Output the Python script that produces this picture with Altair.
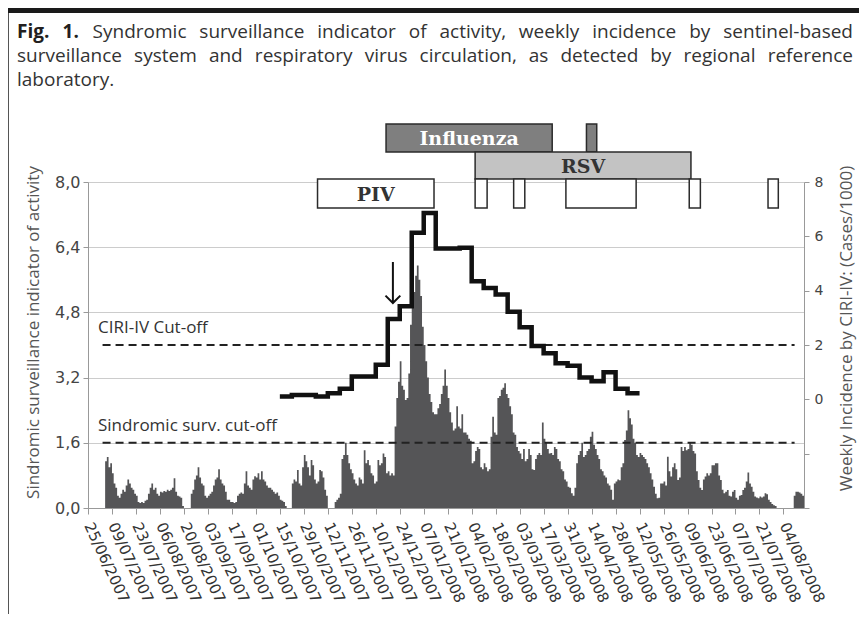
import altair as alt
import pandas as pd

# ---------------- data ----------------
FIRST_DAY = 10          # day index (days since 25/06/2007) of first daily value
DOMAIN_END = 418
daily_indicator = [
    1.15, 1.25, 1.0, 1.1, 0.85, 0.6, 0.5, 0.3, 0.25, 0.35,
    0.45, 0.4, 0.55, 0.7, 0.6, 0.5, 0.45, 0.35, 0.3, 0.15,
    0.12, 0.15, 0.12, 0.18, 0.2, 0.35, 0.5, 0.6, 0.45, 0.5,
    0.35, 0.3, 0.4, 0.38, 0.42, 0.4, 0.45, 0.42, 0.45, 0.5,
    0.73, 0.4, 0.3, 0.28, 0.25, 0.05, 0, 0, 0, 0,
    0.35, 0.45, 0.7, 0.8, 1.0, 0.75, 0.6, 0.55, 0.3, 0.25,
    0.3, 0.35, 0.4, 0.55, 0.7, 0.75, 0.95, 0.7, 0.6, 0.55,
    0.4, 0.2, 0.2, 0.15, 0.15, 0.12, 0.15, 0.3, 0.35, 0.38,
    0.35, 0.6, 0.9, 0.55, 0.5, 0.45, 0.7, 0.78, 0.75, 0.85,
    0.7, 0.9, 0.7, 0.65, 0.55, 0.5, 0.5, 0.45, 0.4, 0.35,
    0.38, 0.3, 0.2, 0.18, 0.15, 0.05, 0, 0, 0, 0.6,
    0.7, 0.65, 0.93, 0.6, 0.55, 1.0, 1.3, 1.15, 1.0, 0.8,
    1.18, 1.05, 0.7, 0.6, 0.65, 0.93, 0.9, 0.75, 0.45, 0.3,
    0, 0, 0, 0, 0.15, 0.2, 0.25, 0.35, 1.2, 1.3,
    1.6, 1.3, 1.1, 0.95, 0.85, 0.7, 0.6, 0.55, 0.75, 0.7,
    0.6, 1.42, 1.1, 1.18, 1.05, 0.85, 0.8, 0.6, 0.65, 1.18,
    1.05, 1.1, 1.34, 1.25, 0.85, 0.9, 0.8, 0.85, 0.8, 2.0,
    2.7, 3.1, 3.6, 3.0, 2.9, 2.65, 2.7, 3.3, 4.5, 5.1,
    5.3, 5.7, 5.95, 5.6, 5.2, 4.45, 4.0, 3.6, 3.2, 2.8,
    2.6, 2.35, 2.3, 2.3, 2.45, 2.55, 2.8, 3.0, 3.4, 3.0,
    2.7, 2.35, 2.1, 1.9, 1.95, 2.5, 2.0, 1.95, 2.3, 1.85,
    1.85, 1.8, 1.7, 1.65, 1.1, 1.15, 1.4, 1.5, 1.45, 1.0,
    0.95, 1.1, 1.0, 0.9, 0.95, 1.75, 2.24, 1.85, 1.8, 2.7,
    2.75, 2.9, 2.95, 3.06, 2.8, 2.7, 2.5, 2.3, 1.85, 1.8,
    1.5, 1.4, 1.34, 1.2, 1.45, 1.15, 1.2, 1.45, 1.3, 0.95,
    0.93, 1.2, 1.3, 1.35, 1.3, 2.1, 1.7, 1.6, 1.45, 1.34,
    1.35, 1.3, 1.5, 1.45, 1.2, 1.15, 0.95, 0.9, 0.7, 0.65,
    0.52, 0.5, 0.36, 0.3, 0.5, 1.1, 1.3, 1.4, 1.6, 1.25,
    1.3, 1.4, 1.45, 1.75, 1.87, 1.55, 1.45, 1.3, 1.2, 0.95,
    0.9, 0.8, 0.75, 0.6, 0.55, 0.45, 0.2, 0.6, 0.65, 0.7,
    0.68, 1.0, 1.1, 1.67, 1.9, 2.4, 2.2, 2.05, 1.7, 1.6,
    1.3, 1.25, 1.35, 1.3, 1.25, 1.2, 1.1, 1.0, 0.85, 0.7,
    0.52, 0.35, 0.24, 0.25, 0.6, 0.6, 0.65, 0.55, 1.26, 0.9,
    0.77, 1.0, 1.1, 0.95, 0.69, 0.75, 1.5, 1.4, 1.5, 1.42,
    1.45, 1.6, 1.55, 1.4, 1.34, 0.9, 0.69, 0.5, 0.44, 0.7,
    0.77, 0.85, 0.8, 0.85, 1.05, 1.05, 1.1, 1.1, 0.8, 0.69,
    0.45, 0.36, 0.4, 0.44, 0.3, 0.28, 0.4, 0.44, 0.25, 0.2,
    0.3, 0.32, 0.44, 0.5, 0.65, 0.87, 0.6, 0.52, 0.4, 0.28,
    0.26, 0.24, 0.28, 0.26, 0.28, 0.36, 0.34, 0.2, 0.15, 0.1,
    0.07, 0.05, 0, 0, 0, 0, 0, 0, 0, 0,
    0, 0, 0.3, 0.4, 0.4, 0.38, 0.35, 0.3,
]
FIRST_WEEK_DAY = 112    # 15/10/2007
weekly_incidence = [0.1, 0.16, 0.16, 0.1, 0.22, 0.39, 0.84, 0.84, 1.27, 2.96,
                    3.43, 6.13, 6.86, 5.55, 5.55, 5.58, 4.35, 4.1, 3.86, 3.22,
                    2.65, 1.96, 1.7, 1.33, 1.24, 0.8, 0.67, 1.0, 0.39, 0.22]
tick_labels = ["25/06/2007", "09/07/2007", "23/07/2007", "06/08/2007", "20/08/2007",
               "03/09/2007", "17/09/2007", "01/10/2007", "15/10/2007", "29/10/2007",
               "12/11/2007", "26/11/2007", "10/12/2007", "24/12/2007", "07/01/2008",
               "21/01/2008", "04/02/2008", "18/02/2008", "03/03/2008", "17/03/2008",
               "31/03/2008", "14/04/2008", "28/04/2008", "12/05/2008", "26/05/2008",
               "09/06/2008", "23/06/2008", "07/07/2008", "21/07/2008", "04/08/2008"]
left_ticks = [0, 1.6, 3.2, 4.8, 6.4, 8.0]
right_ticks = [-4, -2, 0, 2, 4, 6, 8]

virus_names = ["Influenza", "Influenza", "RSV", "PIV", "RSV+", "RSV+", "RSV+", "RSV+", "RSV+"]
virus_start = [174, 291, 226, 134, 226, 248.5, 279, 351, 397]
virus_end = [271, 297, 352, 202, 233, 255, 320, 357.5, 403]
virus_row = [1, 1, 2, 3, 3, 3, 3, 3, 3]
virus_label = ["Influenza", "", "RSV", "PIV", "", "", "", "", ""]

cutoff_values = [4.0, 1.6]     # left-axis units (CIRI-IV 2 cases/1000 == 4.0)
cutoff_from, cutoff_to = 8.5, 412.5
arrow_day = 178

caption_lines = [
    "Fig. 1. Syndromic surveillance indicator of activity, weekly incidence by sentinel-based",
    "surveillance system and respiratory virus circulation, as detected by regional reference",
    "laboratory.",
]

# ---------------- helpers ----------------
W, H = 716, 326
xscale = alt.Scale(domain=[0, DOMAIN_END], nice=False, zero=False)
label_array = "[" + ",".join("'%s'" % t for t in tick_labels) + "]"
x_axis = alt.Axis(values=list(range(0, 14 * len(tick_labels), 14)),
                  labelExpr=label_array + "[round(datum.value/14)]",
                  labelAngle=65, labelAlign="left", labelBaseline="middle",
                  labelFont="DejaVu Sans", labelFontSize=15, labelColor="#333333",
                  labelOverlap=False, labelFlush=False, labelPadding=9,
                  tickSize=6, tickColor="#999999", domainColor="#999999",
                  grid=False, title=None)


def X(field):
    return alt.X(field + ":Q", scale=xscale, axis=x_axis)


yscale_left = alt.Scale(domain=[0, 8], nice=False, zero=True)
left_axis = alt.Axis(values=left_ticks,
                     labelExpr="replace(format(datum.value, '.1f'), '.', ',')",
                     grid=True, gridColor="#cccccc", gridWidth=1,
                     labelFont="DejaVu Sans", labelFontSize=16, labelColor="#444444",
                     labelPadding=3, tickSize=5, tickColor="#999999", domainColor="#999999",
                     title="Sindromic surveillance indicator of activity",
                     titleFont="Open Sans", titleFontSize=17, titleFontWeight="normal",
                     titleColor="#555555", titleAngle=270, titleAlign="center",
                     titleBaseline="middle", titleX=-55, titleY=150)
right_axis = alt.Axis(orient="right", values=right_ticks,
                      labelExpr="datum.value >= 0 ? datum.label : ''",
                      grid=False, labelFont="DejaVu Sans", labelFontSize=14,
                      labelColor="#444444", labelPadding=5, tickSize=5,
                      tickColor="#999999", domainColor="#999999",
                      title="Weekly Incidence by CIRI-IV: (Cases/1000)",
                      titleFont="Open Sans", titleFontSize=17, titleFontWeight="normal",
                      titleColor="#555555", titleAngle=270, titleAlign="center",
                      titleBaseline="middle", titleX=42, titleY=146)

# ---------------- layers ----------------
days = list(range(FIRST_DAY, FIRST_DAY + len(daily_indicator))) + [FIRST_DAY + len(daily_indicator)]
bars_df = pd.DataFrame({"day": days, "v": daily_indicator + [daily_indicator[-1]]})
area = alt.Chart(bars_df).mark_area(interpolate="step-after", color="#555557").encode(
    x=X("day"), y=alt.Y("v:Q", scale=yscale_left, axis=left_axis))

cut_df = pd.DataFrame({"v": cutoff_values, "x0": [cutoff_from] * 2, "x1": [cutoff_to] * 2})
cuts = alt.Chart(cut_df).mark_rule(strokeDash=[8, 5], strokeWidth=2, color="#222222").encode(
    x=X("x0"), x2="x1", y=alt.Y("v:Q", scale=yscale_left, axis=left_axis))

cut_text1 = alt.Chart(pd.DataFrame({"t": ["CIRI-IV Cut-off"]})).mark_text(
    align="left", baseline="alphabetic", font="Open Sans", fontSize=17, color="#333333").encode(
    x=alt.value(10), y=alt.value(151), text="t:N")
cut_text2 = alt.Chart(pd.DataFrame({"t": ["Sindromic surv. cut-off"]})).mark_text(
    align="left", baseline="alphabetic", font="Open Sans", fontSize=17, color="#333333").encode(
    x=alt.value(10), y=alt.value(249), text="t:N")

box_df = pd.DataFrame({"name": virus_names, "start": virus_start, "end": virus_end,
                       "row": virus_row, "label": virus_label})
box_df["mid"] = (box_df["start"] + box_df["end"]) / 2
row_px = {1: (-58, -30), 2: (-30, -3), 3: (-3, 26)}
row_fill = {1: "#7f7f7f", 2: "#c3c3c3", 3: "#ffffff"}
row_text = {1: "#ffffff", 2: "#333333", 3: "#333333"}
box_layers = []
for r in (1, 2, 3):
    base = alt.Chart(box_df).transform_filter(alt.datum.row == r)
    box_layers.append(base.mark_rect(fill=row_fill[r], stroke="#2b2b2b", strokeWidth=1.5).encode(
        x=X("start"), x2="end", y=alt.value(row_px[r][0]), y2=alt.value(row_px[r][1])))
    box_layers.append(base.transform_filter(alt.datum.label != "").mark_text(
        font="DejaVu Serif", fontWeight="bold", fontSize=19, color=row_text[r],
        baseline="middle", align="center").encode(
        x=X("mid"), y=alt.value((row_px[r][0] + row_px[r][1]) / 2 + 1), text="label:N"))

arrow_df = pd.DataFrame({"day": [arrow_day]})
arrow_shaft = alt.Chart(arrow_df).mark_rule(color="#111111", strokeWidth=2).encode(
    x=X("day"), y=alt.value(80), y2=alt.value(120))
arrow_head = alt.Chart(arrow_df).mark_point(
    shape="M -1 -1 L 0 0 L 1 -1", filled=False, stroke="#111111", strokeWidth=2, size=220,
    opacity=1).encode(x=X("day"), y=alt.value(121))

# caption (justified words)
OS = {'a': 1139, 'b': 1255, 'c': 975, 'd': 1255, 'e': 1149, 'f': 694, 'g': 1122, 'h': 1257,
      'i': 518, 'j': 518, 'k': 1075, 'l': 518, 'm': 1905, 'n': 1257, 'o': 1237, 'p': 1255,
      'q': 1255, 'r': 836, 's': 977, 't': 723, 'u': 1257, 'v': 1026, 'w': 1593, 'x': 1073,
      'y': 1028, 'z': 922, '.': 545, ',': 500, '-': 659, '1': 1171, 'F': 1104, 'S': 1098}


def tw(s, size, bold=False):
    return sum(OS.get(c, 1150) * (1.07 if bold else 1.0) for c in s) / 2048 * size


one = pd.DataFrame({"k": [0]})
cap_layers = []
CAP_X0, CAP_X1, CAP_SIZE = -71, 765, 19
baselines = [-144, -120, -96]
for li, line_txt in enumerate(caption_lines):
    words = line_txt.split(" ")
    bold = [li == 0 and wi < 2 for wi in range(len(words))]
    justify = li < len(caption_lines) - 1
    widths = [tw(w, CAP_SIZE, b) for w, b in zip(words, bold)]
    gap = (CAP_X1 - CAP_X0 - sum(widths)) / (len(words) - 1) if justify and len(words) > 1 else 4.9
    xpos = CAP_X0
    for wi, (w, b) in enumerate(zip(words, bold)):
        last = justify and wi == len(words) - 1
        cap_layers.append(alt.Chart(one).mark_text(
            text=w, align="right" if last else "left", baseline="alphabetic",
            font="Open Sans", fontSize=CAP_SIZE, fontWeight="bold" if b else "normal",
            color="#231f20" if b else "#333333").encode(
            x=alt.value(CAP_X1 if last else xpos), y=alt.value(baselines[li])))
        xpos += widths[wi] + gap

top_bar = alt.Chart(one).mark_rule(color="#1a1a1a", strokeWidth=5).encode(
    x=alt.value(-80), x2=alt.value(771), y=alt.value(-171.5))
left_border = alt.Chart(one).mark_rule(color="#555555", strokeWidth=1).encode(
    x=alt.value(-79.5), y=alt.value(-169), y2=alt.value(432))

week_days = [FIRST_WEEK_DAY + 7 * k for k in range(len(weekly_incidence) + 1)]
line_df = pd.DataFrame({"day": week_days, "r": weekly_incidence + [weekly_incidence[-1]]})
line = alt.Chart(line_df).mark_line(interpolate="step-after", color="#111111", strokeWidth=4.5,
                                    strokeJoin="miter").encode(
    x=X("day"), y=alt.Y("r:Q", scale=alt.Scale(domain=[-4, 8], nice=False, zero=False),
                        axis=right_axis))

left_group = alt.layer(area, cuts, cut_text1, cut_text2, *box_layers, arrow_shaft, arrow_head,
                       *cap_layers, top_bar, left_border)
right_group = alt.layer(line)

chart = alt.layer(left_group, right_group).resolve_scale(y="independent").properties(
    width=W, height=H,
    autosize=alt.AutoSizeParams(type="none"),
    padding={"left": 80, "top": 174, "right": 55, "bottom": 106},
    background="white",
).configure_view(stroke=None)

chart.save("out.html", embed_options={"renderer": "svg", "actions": False})
